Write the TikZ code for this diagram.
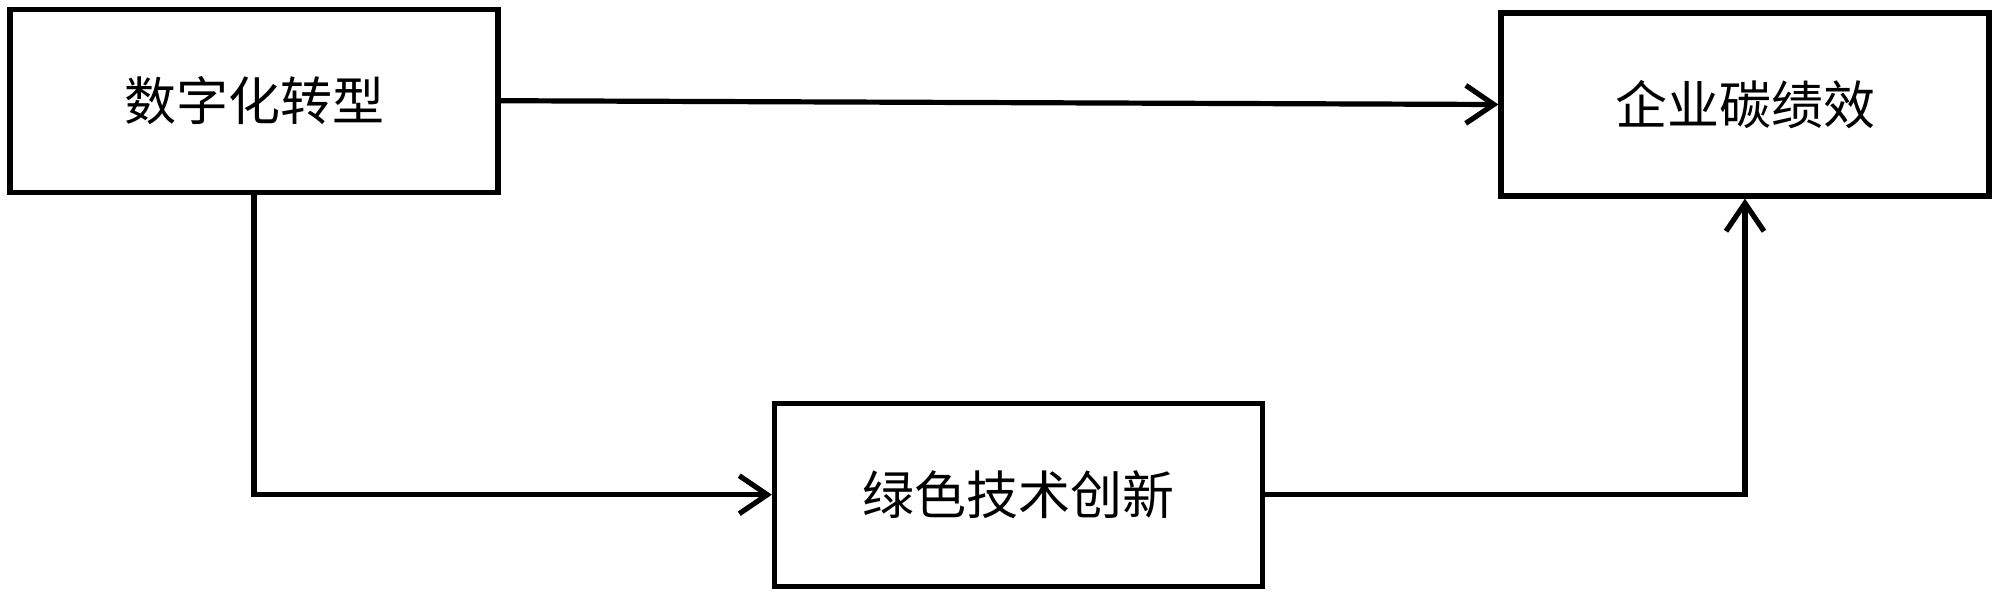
\documentclass[tikz,border=0pt]{standalone}
\usepackage{fontspec}
\setmainfont{Noto Sans CJK SC}
\usetikzlibrary{arrows.meta}
\begin{document}
\begin{tikzpicture}[x=0.5pt,y=-0.5pt,
  box/.style={draw=black, line width=2.6pt, minimum width=244pt, minimum height=91.5pt, inner sep=0pt, font=\fontsize{26}{30}\selectfont},
  conn/.style={draw=black, line width=2.6pt, -{Straight Barb[length=14pt,width=19pt,line width=2.6pt]}}]
\useasboundingbox (0,0) rectangle (1999,596);
\node[box] (dt) at (254,100.7) {数字化转型};
\node[box] (cp) at (1745,104.5) {企业碳绩效};
\node[box] (gi) at (1018.5,494.7) {绿色技术创新};
\draw[conn] (dt.east) -- (cp.west);
\draw[conn] (dt.south) |- (gi.west);
\draw[conn] (gi.east) -| (cp.south);
\end{tikzpicture}
\end{document}
